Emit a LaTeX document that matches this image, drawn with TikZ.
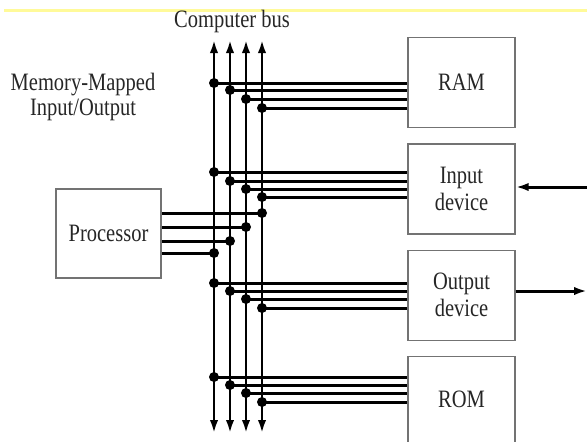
\documentclass[tikz,border=0pt]{standalone}
\usepackage{fontspec}
\setmainfont[FakeStretch=0.82]{Liberation Serif}
\usepackage{tikz}
\usetikzlibrary{positioning, calc, arrows.meta}

\tikzset{
  unit/.style={rectangle, draw=black!55, line width=0.7pt, minimum width=53.5pt, minimum height=45pt, align=center, text=black!85, font=\fontsize{12.5}{13.5}\selectfont},
  busline/.style={line width=1.2pt, {Latex[length=6.5pt,width=4.2pt]}-{Latex[length=6.5pt,width=4.2pt]}},
  wire/.style={line width=1.5pt},
  tap/.style={circle, fill, inner sep=0pt, minimum size=5pt},
  caption/.style={align=center, text=black!85, font=\fontsize{12.5}{12.5}\selectfont},
}

\begin{document}
\begin{tikzpicture}[x=0.5pt, y=-0.5pt, node distance=7.5pt]
    \useasboundingbox (0,0) rectangle (587,441);
    % thin yellow strip along the top edge
    \fill[yellow!40] (4,9) rectangle (587,12);

    \node (ram) [unit] at (461.5,82.5) {RAM};
    \node (inp) [unit, below=of ram] {Input\\device};
    \node (outp) [unit, below=of inp] {Output\\device};
    \node (rom) [unit, below=of outp, minimum height=43pt] {ROM};
    \node (cpu) [unit, minimum width=52.5pt, minimum height=44.5pt] at (108.5,233.5) {Processor};

    \node (busname) [caption] at (232,21) {Computer bus};
    \node (mmio) [caption] at (83,97) {Memory-Mapped\\Input/Output};

    % the four bus lines
    \foreach \i/\x in {1/214,2/230,3/246,4/262} {
        \coordinate (top\i) at (\x,40);
        \coordinate (bot\i) at (\x,433);
        \draw[busline] (bot\i) -- (top\i);
    }

    % taps from the bus into each unit
    \foreach \dev/\ya/\yb/\yc/\yd in {ram/83/90/99/108, inp/172/181/189/197, outp/283/291/299/308, rom/377/385/393/402} {
        \foreach \i/\y in {1/\ya,2/\yb,3/\yc,4/\yd} {
            \node (\dev tap\i) [tap] at (top\i |- 0,\y) {};
            \draw[wire] (\dev tap\i.center) -- (\dev tap\i -| \dev.west);
        }
    }
    \foreach \i/\y in {4/213,3/227,2/241,1/253} {
        \node (cputap\i) [tap] at (top\i |- 0,\y) {};
        \draw[wire] (cputap\i.center) -- (cputap\i -| cpu.east);
    }

    % outside world
    \coordinate (inpsrc) at (587,187);
    \coordinate (outpdst) at (587,291);
    \draw[wire, -{Latex[length=6.5pt,width=4.2pt]}] (inpsrc) -- (inpsrc -| inp.east);
    \draw[wire, -{Latex[length=6.5pt,width=4.2pt]}] (outpdst -| outp.east) -- (outpdst);
\end{tikzpicture}
\end{document}
